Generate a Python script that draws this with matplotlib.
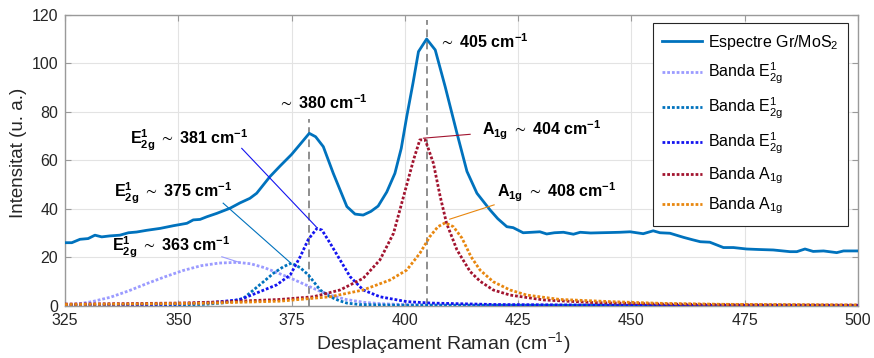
import matplotlib
matplotlib.use('Agg')
import matplotlib.pyplot as plt
import numpy as np

# Tipus de lletra semblant a Helvetica, també per a les fórmules
plt.rcParams['font.family'] = ['Liberation Sans', 'DejaVu Sans']
plt.rcParams['mathtext.fontset'] = 'custom'
plt.rcParams['mathtext.rm'] = 'Liberation Sans'
plt.rcParams['mathtext.bf'] = 'Liberation Sans:bold'
plt.rcParams['mathtext.it'] = 'Liberation Sans:italic'
plt.rcParams['mathtext.default'] = 'rm'
plt.rcParams['mathtext.fallback'] = 'stixsans'

# Espectre Raman mesurat (Gr/MoS2)
espectre_x = [325.0, 326.5, 328.3, 330.1, 331.6, 333.1, 334.9, 337.1, 339.0, 340.8,
              343.0, 346.0, 348.9, 351.9, 353.3, 354.8, 356.3, 358.5, 361.4, 363.6,
              365.8, 367.3, 370.2, 372.5, 375.0, 376.8, 378.9, 380.3, 382.0, 384.2,
              387.2, 389.0, 390.8, 392.5, 394.1, 396.0, 397.8, 399.2, 400.4, 401.8,
              403.0, 404.8, 406.7, 408.9, 411.5, 413.7, 415.9, 418.8, 420.5, 422.5,
              423.9, 426.1, 428.0, 429.8, 431.3, 433.0, 435.0, 437.2, 438.7, 441.0,
              443.1, 445.5, 447.5, 449.7, 452.6, 454.8, 456.3, 458.5, 461.5, 463.5,
              465.2, 467.3, 470.3, 472.5, 475.4, 478.0, 481.3, 485.0, 486.5, 488.3,
              490.1, 492.4, 495.3, 496.8, 500.0]
espectre_y = [26.1, 26.1, 27.5, 27.8, 29.2, 28.5, 28.9, 29.2, 30.2, 30.5,
              31.2, 32.0, 33.1, 34.1, 35.5, 35.7, 36.8, 38.2, 40.3, 42.5,
              44.4, 46.5, 53.3, 57.8, 62.5, 66.5, 71.2, 69.8, 65.7, 54.7,
              41.0, 37.9, 37.5, 39.0, 41.2, 47.0, 54.7, 65.0, 78.0, 92.0,
              104.9, 110.1, 105.6, 90.4, 71.2, 55.5, 46.5, 39.6, 36.0, 32.7,
              32.3, 30.2, 30.4, 30.6, 29.7, 30.2, 30.4, 29.6, 30.4, 30.1,
              30.2, 30.3, 30.4, 30.6, 29.8, 31.0, 30.2, 30.0, 28.3, 27.3,
              26.5, 26.3, 24.1, 24.1, 23.5, 23.3, 23.1, 22.4, 22.4, 23.5,
              22.5, 22.7, 22.0, 22.7, 22.7]

# Bandes ajustades
e363_x = [325, 328, 331, 335, 339, 343, 347, 351, 355, 359, 363, 366, 369, 372, 375,
          378, 381, 384, 387, 391, 395, 400, 410, 430, 460, 500]
e363_y = [0.4, 0.9, 1.8, 3.6, 6.2, 9.2, 12.0, 14.6, 16.6, 17.7, 18.0, 17.4, 15.8, 13.6, 11.3,
          8.8, 6.3, 4.2, 2.7, 1.5, 0.9, 0.6, 0.4, 0.3, 0.25, 0.2]

e375_x = [325, 340, 350, 356, 360, 362, 364.4, 366.6, 368.8, 371.0, 373.2, 375.0, 376.9,
          378.7, 381.3, 383.5, 385.5, 387.2, 390, 400, 500]
e375_y = [0.2, 0.3, 0.4, 0.7, 1.3, 2.0, 3.2, 6.6, 10.0, 13.5, 16.2, 17.7, 15.8,
          12.8, 6.6, 3.8, 2.2, 1.2, 0.6, 0.3, 0.2]

e381_x = [325, 340, 350, 357.6, 363.6, 368.0, 371.7, 374.7, 376.9, 378.7, 380.6, 381.7,
          383.5, 385.7, 387.9, 390.8, 394.5, 400.4, 405.8, 420, 450, 500]
e381_y = [0.3, 0.5, 0.8, 1.5, 2.6, 5.9, 8.7, 12.8, 20.3, 27.5, 32.0, 31.3,
          25.9, 19.0, 12.1, 6.6, 3.8, 1.8, 1.2, 0.6, 0.3, 0.2]

a404_x = [325, 340, 350, 360, 366, 372.5, 379.8, 385.7, 390.8, 394.5, 397.5, 399.7, 401.9,
          403.3, 404.5, 406.3, 407.8, 409.2, 411.5, 414.4, 416.6, 419.5, 423.2, 430.6,
          441.6, 456, 475, 500]
a404_y = [0.8, 1.0, 1.2, 1.7, 2.2, 2.7, 3.8, 6.6, 11.4, 19.0, 30.0, 45.1, 60.2,
          68.5, 68.5, 58.8, 45.1, 34.1, 23.1, 14.2, 10.2, 6.6, 4.5, 2.5,
          1.4, 0.8, 0.5, 0.35]

a408_x = [325, 340, 355, 365, 372.5, 383.5, 390.8, 396.7, 400.4, 403.3, 405.5, 407.3, 408.9,
          410.7, 412.6, 414.6, 416.6, 419.5, 423.2, 426.9, 434.2, 445.3, 456.3, 470, 500]
a408_y = [0.6, 0.8, 1.1, 1.6, 2.0, 3.8, 6.6, 10.7, 14.8, 21.7, 28.6, 32.7, 34.3,
          32.7, 28.0, 20.3, 14.8, 10.0, 6.6, 4.5, 2.7, 1.8, 1.1, 0.7, 0.4]

bandes = [
    (e363_x, e363_y, '#9b9bff', r'Banda E$^1_{2g}$'),
    (e375_x, e375_y, '#0072bd', r'Banda E$^1_{2g}$'),
    (e381_x, e381_y, '#1414f0', r'Banda E$^1_{2g}$'),
    (a404_x, a404_y, '#a2142f', r'Banda A$_{1g}$'),
    (a408_x, a408_y, '#e8870f', r'Banda A$_{1g}$'),
]

# Etiquetes de les bandes: text, posició del text, línia cap al pic
etiquetes = [
    (r'$\mathbf{E^{1}_{2g}}$ $\sim$ 381 cm$^{\mathbf{-1}}$', (339.3, 66.4), [(364.0, 65.0), (380.4, 32.7)], '#1414f0'),
    (r'$\mathbf{E^{1}_{2g}}$ $\sim$ 375 cm$^{\mathbf{-1}}$', (335.8, 44.8), [(359.9, 42.4), (374.7, 17.9)], '#0072bd'),
    (r'$\mathbf{E^{1}_{2g}}$ $\sim$ 363 cm$^{\mathbf{-1}}$', (335.3, 22.4), [(359.6, 20.3), (363.6, 17.9)], '#9b9bff'),
    (r'$\mathbf{A_{1g}}$ $\sim$ 404 cm$^{\mathbf{-1}}$', (417.0, 70.5), [(404.1, 69.2), (414.4, 70.8)], '#a2142f'),
    (r'$\mathbf{A_{1g}}$ $\sim$ 408 cm$^{\mathbf{-1}}$', (420.4, 44.8), [(409.9, 35.8), (419.7, 41.7)], '#e8870f'),
]

# Pics de l'espectre marcats amb línia discontínua
finestres = [(370, 390), (395, 415)]
alt_linia = [77, 118]
text_pics = [r'$\sim$ 380 cm$^{\mathbf{-1}}$', r'$\sim$ 405 cm$^{\mathbf{-1}}$']
pos_text_pics = [(371.9, 81.1), (407.6, 106.3)]

fig = plt.figure(figsize=(8.74, 3.58), dpi=100)
ax = fig.add_axes([0.0744, 0.1453, 0.9073, 0.8128])

gris = '#262626'
ax.plot(espectre_x, espectre_y, color='#0072bd', lw=2.0, label=r'Espectre Gr/MoS$_2$', zorder=3)
for bx, by, c, lab in bandes:
    ax.plot(bx, by, color=c, lw=2.0, linestyle=(0, (1, 0.7)), label=lab, zorder=4)

sx = np.array(espectre_x)
sy = np.array(espectre_y)
for (a, b), h, t, (tx, ty) in zip(finestres, alt_linia, text_pics, pos_text_pics):
    m = (sx >= a) & (sx <= b)
    xp = sx[m][np.argmax(sy[m])]
    ax.plot([xp, xp], [0, h], color='#707070', lw=1.1, linestyle=(0, (5, 3)), zorder=2)
    ax.text(tx, ty, t, fontsize=11.5, fontweight='bold', color='black', ha='left', va='baseline')

for t, (tx, ty), linia, c in etiquetes:
    (x0, y0), (x1, y1) = linia
    ax.plot([x0, x1], [y0, y1], color=c, lw=0.8, zorder=5)
    ax.text(tx, ty, t, fontsize=11.5, fontweight='bold', color='black', ha='left', va='baseline')

ax.set_xlim(325, 500)
ax.set_ylim(0, 120)
ax.set_xticks([325, 350, 375, 400, 425, 450, 475, 500])
ax.set_yticks([0, 20, 40, 60, 80, 100, 120])
ax.grid(True, color='#e3e3e3', lw=0.8)
ax.set_axisbelow(True)
for s in ax.spines.values():
    s.set_color('#9a9a9a')
    s.set_linewidth(1.0)
ax.tick_params(direction='in', length=4, width=0.8, color='#9a9a9a', labelcolor=gris,
               labelsize=11.5, top=True, right=True, pad=5)

ax.set_xlabel(r'Desplaçament Raman (cm$^{-1}$)', fontsize=14, color=gris)
ax.set_ylabel('Intensitat (u. a.)', fontsize=13.5, color=gris)
ax.xaxis.set_label_coords(0.477, -0.083)
ax.yaxis.set_label_coords(-0.048, 0.526)

leg = ax.legend(loc='upper right', bbox_to_anchor=(0.9874, 0.9725), borderaxespad=0,
                fontsize=11.5, fancybox=False, framealpha=1, edgecolor='#262626',
                handlelength=2.5, handletextpad=0.35, labelspacing=0.6, borderpad=0.6)
leg.get_frame().set_linewidth(0.8)

fig.savefig('out.png', dpi=100)
